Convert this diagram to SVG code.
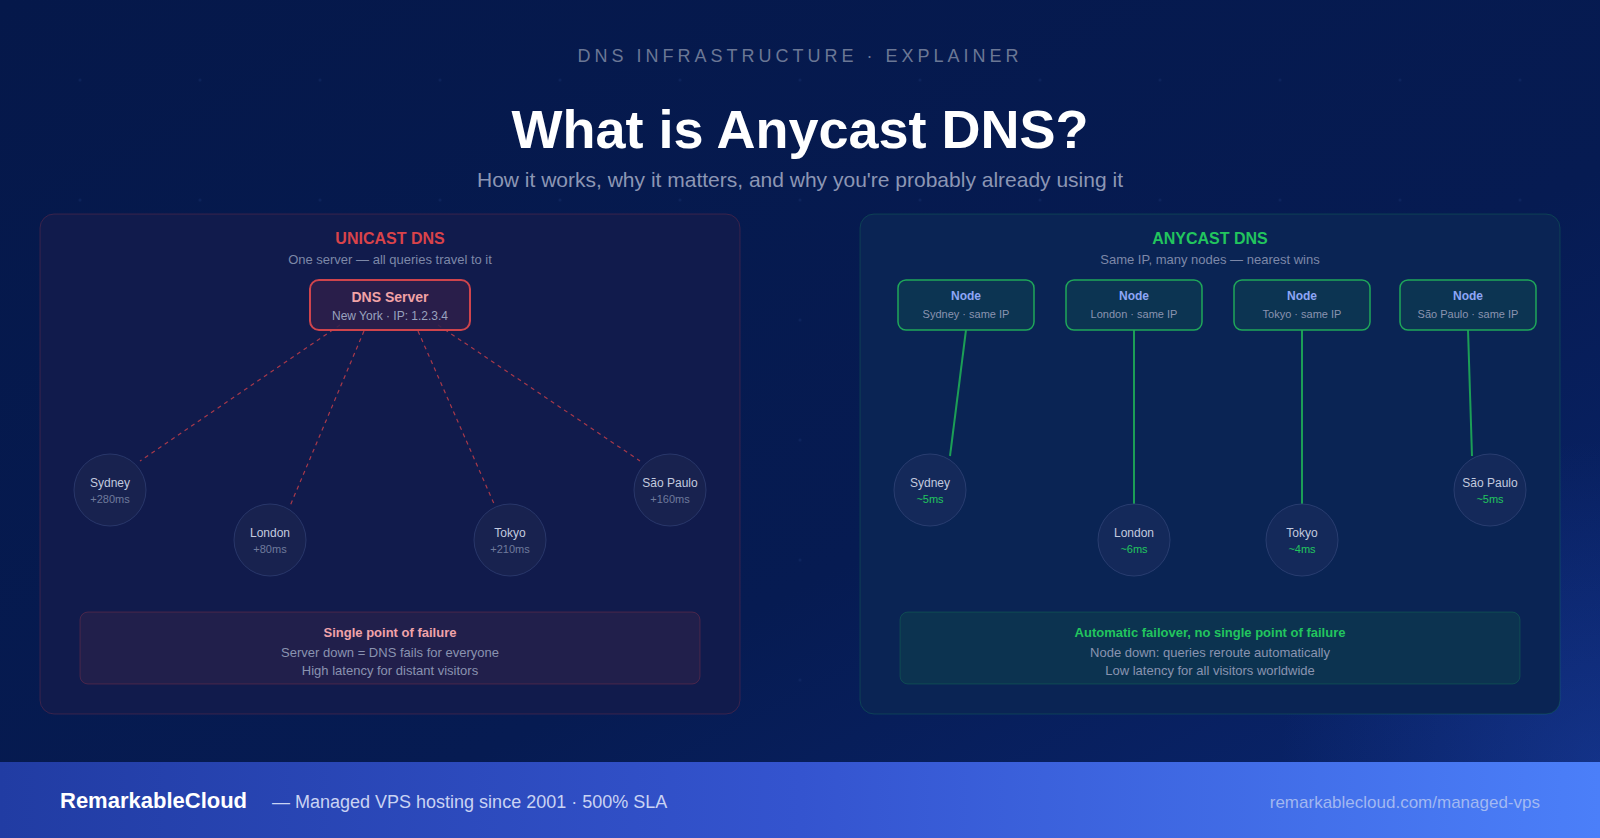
<svg xmlns="http://www.w3.org/2000/svg" width="1600" height="838" viewBox="0 0 1600 838">
<defs>
<linearGradient id="bg" x1="0" y1="0" x2="1" y2="1">
<stop offset="0" stop-color="#05184a"/>
<stop offset="0.6" stop-color="#061b52"/>
<stop offset="1" stop-color="#0a2670"/>
</linearGradient>
<radialGradient id="glow" cx="1600" cy="760" r="320" gradientUnits="userSpaceOnUse">
<stop offset="0" stop-color="#2a52c8" stop-opacity="0.3"/>
<stop offset="1" stop-color="#2a52c8" stop-opacity="0"/>
</radialGradient>
<linearGradient id="foot" x1="0" y1="0" x2="1" y2="0">
<stop offset="0" stop-color="#213ca3"/>
<stop offset="0.5" stop-color="#3454cf"/>
<stop offset="1" stop-color="#4b7ff9"/>
</linearGradient>
<pattern id="dots" x="20" y="20" width="120" height="120" patternUnits="userSpaceOnUse">
<circle cx="60" cy="60" r="1.5" fill="#1b3272" opacity="0.35"/>
</pattern>
<style>
text{font-family:"Liberation Sans",Arial,sans-serif;text-anchor:middle}
.panelL{fill:#111b4c;stroke:#d9434a;stroke-opacity:0.22;stroke-width:1}
.panelR{fill:#0a2454;stroke:#22c55e;stroke-opacity:0.2;stroke-width:1}
.ptitle{font-size:16px;font-weight:bold}
.psub{font-size:13px;fill:#7d88a8}
.city{fill:#18224f;stroke:#29376a;stroke-width:1}
.cityR{fill:#14295a;stroke:#293d70;stroke-width:1}
.cname{font-size:12px;fill:#c3cadf}
.lat{font-size:11px;fill:#6f7a9c}
.latG{font-size:11px;fill:#22c55e}
.node{fill:#0c3452;stroke:#1fa75a;stroke-width:1.5}
.ntitle{font-size:12px;font-weight:bold;fill:#8ea6f6}
.nsub{font-size:11px;fill:#8a93b0}
.dash{stroke:#d9434a;stroke-width:1.2;stroke-dasharray:4 4;fill:none;opacity:0.75}
.solid{stroke:#1c9e56;stroke-width:2;fill:none}
.btext{font-size:13px;fill:#8a93b0}
</style>
</defs>

<g id="background">
<rect x="0" y="0" width="1600" height="838" fill="url(#bg)"/>
<rect x="0" y="0" width="1600" height="838" fill="url(#glow)"/>
<rect x="0" y="0" width="1600" height="762" fill="url(#dots)"/>
</g>

<g id="header">
<text x="800" y="62" style="font-size:18px;letter-spacing:4px;fill:#6b7795">DNS INFRASTRUCTURE · EXPLAINER</text>
<text x="800" y="148" style="font-size:54px;font-weight:bold;fill:#ffffff">What is Anycast DNS?</text>
<text x="800" y="187" style="font-size:21px;fill:#8c96b4">How it works, why it matters, and why you're probably already using it</text>
</g>

<g id="panel-unicast">
<rect class="panelL" x="40" y="214" width="700" height="500" rx="14"/>
<text class="ptitle" x="390" y="244" fill="#d9434a">UNICAST DNS</text>
<text class="psub" x="390" y="264">One server — all queries travel to it</text>
</g>

<g id="panel-anycast">
<rect class="panelR" x="860" y="214" width="700" height="500" rx="14"/>
<text class="ptitle" x="1210" y="244" fill="#22c55e">ANYCAST DNS</text>
<text class="psub" x="1210" y="264">Same IP, many nodes — nearest wins</text>
</g>

<g id="connectors">
<line class="dash" x1="340" y1="325" x2="140" y2="461"/>
<line class="dash" x1="364" y1="331" x2="290" y2="506"/>
<line class="dash" x1="418" y1="331" x2="495" y2="506"/>
<line class="dash" x1="438" y1="325" x2="640" y2="461"/>
<line class="solid" x1="966" y1="330" x2="950" y2="456"/>
<line class="solid" x1="1134" y1="330" x2="1134" y2="504"/>
<line class="solid" x1="1302" y1="330" x2="1302" y2="504"/>
<line class="solid" x1="1468" y1="330" x2="1472" y2="456"/>
</g>

<g id="dns-server">
<rect x="310" y="280" width="160" height="50" rx="9" fill="#2e1f4a" fill-opacity="0.85" stroke="#cf444c" stroke-width="2"/>
<text x="390" y="302" style="font-size:14px;font-weight:bold;fill:#f2a3a6">DNS Server</text>
<text x="390" y="320" style="font-size:12px;fill:#9aa3bf">New York · IP: 1.2.3.4</text>
</g>

<g id="u-sydney">
<circle class="city" cx="110" cy="490" r="36"/>
<text class="cname" x="110" y="487">Sydney</text>
<text class="lat" x="110" y="503">+280ms</text>
</g>
<g id="u-london">
<circle class="city" cx="270" cy="540" r="36"/>
<text class="cname" x="270" y="537">London</text>
<text class="lat" x="270" y="553">+80ms</text>
</g>
<g id="u-tokyo">
<circle class="city" cx="510" cy="540" r="36"/>
<text class="cname" x="510" y="537">Tokyo</text>
<text class="lat" x="510" y="553">+210ms</text>
</g>
<g id="u-saopaulo">
<circle class="city" cx="670" cy="490" r="36"/>
<text class="cname" x="670" y="487">São Paulo</text>
<text class="lat" x="670" y="503">+160ms</text>
</g>

<g id="u-note">
<rect x="80" y="612" width="620" height="72" rx="8" fill="#211f4b" stroke="#d9434a" stroke-opacity="0.25" stroke-width="1"/>
<text x="390" y="637" style="font-size:13px;font-weight:bold;fill:#f0a3aa">Single point of failure</text>
<text class="btext" x="390" y="657">Server down = DNS fails for everyone</text>
<text class="btext" x="390" y="675">High latency for distant visitors</text>
</g>

<g id="node-sydney">
<rect class="node" x="898" y="280" width="136" height="50" rx="8"/>
<text class="ntitle" x="966" y="300">Node</text>
<text class="nsub" x="966" y="318">Sydney · same IP</text>
</g>
<g id="node-london">
<rect class="node" x="1066" y="280" width="136" height="50" rx="8"/>
<text class="ntitle" x="1134" y="300">Node</text>
<text class="nsub" x="1134" y="318">London · same IP</text>
</g>
<g id="node-tokyo">
<rect class="node" x="1234" y="280" width="136" height="50" rx="8"/>
<text class="ntitle" x="1302" y="300">Node</text>
<text class="nsub" x="1302" y="318">Tokyo · same IP</text>
</g>
<g id="node-saopaulo">
<rect class="node" x="1400" y="280" width="136" height="50" rx="8"/>
<text class="ntitle" x="1468" y="300">Node</text>
<text class="nsub" x="1468" y="318">São Paulo · same IP</text>
</g>

<g id="a-sydney">
<circle class="cityR" cx="930" cy="490" r="36"/>
<text class="cname" x="930" y="487">Sydney</text>
<text class="latG" x="930" y="503">~5ms</text>
</g>
<g id="a-london">
<circle class="cityR" cx="1134" cy="540" r="36"/>
<text class="cname" x="1134" y="537">London</text>
<text class="latG" x="1134" y="553">~6ms</text>
</g>
<g id="a-tokyo">
<circle class="cityR" cx="1302" cy="540" r="36"/>
<text class="cname" x="1302" y="537">Tokyo</text>
<text class="latG" x="1302" y="553">~4ms</text>
</g>
<g id="a-saopaulo">
<circle class="cityR" cx="1490" cy="490" r="36"/>
<text class="cname" x="1490" y="487">São Paulo</text>
<text class="latG" x="1490" y="503">~5ms</text>
</g>

<g id="a-note">
<rect x="900" y="612" width="620" height="72" rx="8" fill="#0c3350" stroke="#22c55e" stroke-opacity="0.2" stroke-width="1"/>
<text x="1210" y="637" style="font-size:13px;font-weight:bold;fill:#22c55e">Automatic failover, no single point of failure</text>
<text class="btext" x="1210" y="657">Node down: queries reroute automatically</text>
<text class="btext" x="1210" y="675">Low latency for all visitors worldwide</text>
</g>

<g id="footer">
<rect x="0" y="762" width="1600" height="76" fill="url(#foot)"/>
<text x="60" y="808" style="text-anchor:start;font-size:22px;font-weight:bold;fill:#ffffff">RemarkableCloud</text>
<text x="272" y="808" style="text-anchor:start;font-size:18px;fill:#c9d3f3">— Managed VPS hosting since 2001 · 500% SLA</text>
<text x="1540" y="808" style="text-anchor:end;font-size:17px;fill:#b4c5f2;fill-opacity:0.85">remarkablecloud.com/managed-vps</text>
</g>
</svg>
